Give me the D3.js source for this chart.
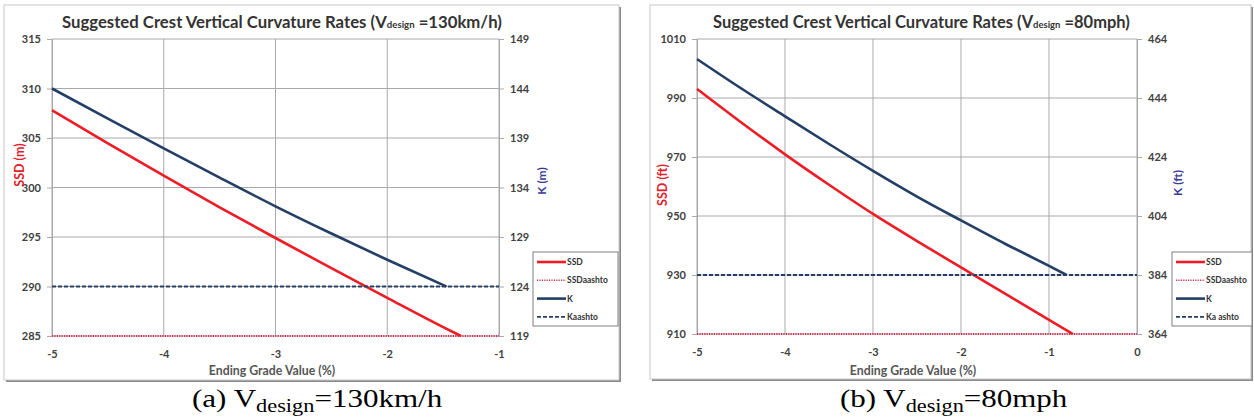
<!DOCTYPE html>
<html>
<head>
<meta charset="utf-8">
<script src="https://cdn.jsdelivr.net/npm/d3@7"></script>
<style>
  body { margin: 0; background: #fff; }
  svg { display: block; }
</style>
</head>
<body>
<div id="chart"></div>
<script>
// ---- panel (a): Vdesign = 130 km/h ----
const grade_ssd_a = [-5, -4.5, -4, -3.5, -3, -2.5, -2, -1.5, -1.34];
const ssd_a       = [307.8, 304.45, 301.2, 298.0, 294.9, 291.85, 288.85, 285.9, 285.0];
const grade_k_a   = [-5, -4.5, -4, -3.5, -3, -2.5, -2, -1.47];
const k_a         = [144.0, 140.95, 137.95, 135.0, 132.1, 129.35, 126.7, 124.0];
const ssd_aashto_a = 285;
const k_aashto_a   = 124;
const ticks_ssd_a = [285, 290, 295, 300, 305, 310, 315];
const ticks_k_a   = [119, 124, 129, 134, 139, 144, 149];
const ticks_x_a   = [-5, -4, -3, -2, -1];
const legend_a    = ["SSD", "SSDaashto", "K", "Kaashto"];

// ---- panel (b): Vdesign = 80 mph ----
const grade_ssd_b = [-5, -4.5, -4, -3.5, -3, -2.5, -2, -1.5, -1, -0.73];
const ssd_b       = [993.1, 981.8, 970.9, 960.6, 950.7, 941.5, 932.6, 923.7, 914.8, 910.0];
const grade_k_b   = [-5, -4.5, -4, -3.5, -3, -2.5, -2, -1.5, -1, -0.8];
const k_b         = [457.2, 447.3, 437.8, 428.4, 419.3, 410.6, 402.5, 394.6, 387.1, 384.0];
const ssd_aashto_b = 910;
const k_aashto_b   = 384;
const ticks_ssd_b = [910, 930, 950, 970, 990, 1010];
const ticks_k_b   = [364, 384, 404, 424, 444, 464];
const ticks_x_b   = [-5, -4, -3, -2, -1, 0];
const legend_b    = ["SSD", "SSDaashto", "K", "Ka ashto"];

const red = "#ee1c25", navy = "#243f66", grid = "#a9a9a9", txt = "#404040";
const font = "Lato, 'Open Sans', sans-serif";

const svg = d3.select("#chart").append("svg")
    .attr("width", 1254)
    .attr("height", 419)
    .style("background", "#fff");

// squeeze/stretch a text element horizontally so it spans a given width
function fit_width(sel, x0, width) {
    const w = sel.node().getBBox().width;
    const k = width / w;
    sel.attr("transform", `translate(${x0},0) scale(${k},1)`);
}

function draw_panel(p) {
    const g = svg.append("g");

    // frame with shadow
    g.append("rect")
        .attr("x", p.frame[0] + 2).attr("y", p.frame[1] + 2)
        .attr("width", p.frame[2] - p.frame[0]).attr("height", p.frame[3] - p.frame[1])
        .attr("fill", "#8a8a8a");
    g.append("rect")
        .attr("x", p.frame[0]).attr("y", p.frame[1])
        .attr("width", p.frame[2] - p.frame[0]).attr("height", p.frame[3] - p.frame[1])
        .attr("fill", "#fff")
        .attr("stroke", "#c8c8c8");

    const x = d3.scaleLinear().domain(p.x_domain).range([p.left, p.right]);
    const y_l = d3.scaleLinear().domain(p.ssd_domain).range([p.bottom, p.top]);
    const y_r = d3.scaleLinear().domain(p.k_domain).range([p.bottom, p.top]);

    // gridlines
    g.append("g").selectAll("line")
        .data(p.ticks_ssd)
        .join("line")
        .attr("x1", p.left).attr("x2", p.right)
        .attr("y1", d => y_l(d)).attr("y2", d => y_l(d))
        .attr("stroke", grid).attr("stroke-width", 1);
    g.append("g").selectAll("line")
        .data(p.ticks_x)
        .join("line")
        .attr("x1", d => x(d)).attr("x2", d => x(d))
        .attr("y1", p.top).attr("y2", p.bottom)
        .attr("stroke", grid).attr("stroke-width", 1);

    // axes
    const fmt = d => String(d);
    const ax_l = g.append("g")
        .attr("transform", `translate(${p.left},0)`)
        .call(d3.axisLeft(y_l).tickValues(p.ticks_ssd).tickFormat(fmt).tickSize(5).tickPadding(6));
    const ax_r = g.append("g")
        .attr("transform", `translate(${p.right},0)`)
        .call(d3.axisRight(y_r).tickValues(p.ticks_k).tickFormat(fmt).tickSize(5).tickPadding(6));
    const ax_b = g.append("g")
        .attr("transform", `translate(0,${p.bottom})`)
        .call(d3.axisBottom(x).tickValues(p.ticks_x).tickFormat(fmt).tickSize(0).tickPadding(14));
    ax_b.select(".domain").remove();
    [ax_l, ax_r].forEach(a => {
        a.select(".domain").attr("stroke", grid);
        a.selectAll(".tick line").attr("stroke", grid);
    });
    [ax_l, ax_r, ax_b].forEach(a => {
        a.selectAll("text")
            .style("font-family", font)
            .style("font-size", "11px")
            .style("font-weight", "bold")
            .attr("fill", txt);
    });

    // aashto reference lines
    g.append("line")
        .attr("x1", x(p.x_domain[0])).attr("x2", x(p.x_domain[1]))
        .attr("y1", y_l(p.ssd_aashto)).attr("y2", y_l(p.ssd_aashto))
        .attr("stroke", "#d2304f").attr("stroke-width", 1.8)
        .attr("stroke-dasharray", "1.2,1.2");

    const line_l = d3.line().curve(d3.curveMonotoneX).x(d => x(d[0])).y(d => y_l(d[1]));
    const line_r = d3.line().curve(d3.curveMonotoneX).x(d => x(d[0])).y(d => y_r(d[1]));

    g.append("path")
        .datum(d3.zip(p.grade_ssd, p.ssd))
        .attr("d", line_l)
        .attr("fill", "none").attr("stroke", red).attr("stroke-width", 2.6);
    g.append("path")
        .datum(d3.zip(p.grade_k, p.k))
        .attr("d", line_r)
        .attr("fill", "none").attr("stroke", navy).attr("stroke-width", 2.6);

    g.append("line")
        .attr("x1", x(p.x_domain[0])).attr("x2", x(p.x_domain[1]))
        .attr("y1", y_r(p.k_aashto)).attr("y2", y_r(p.k_aashto))
        .attr("stroke", navy).attr("stroke-width", 1.8)
        .attr("stroke-dasharray", "4,2");

    // title
    const title = g.append("text")
        .attr("x", 0).attr("y", 28)
        .style("font-family", font)
        .style("font-weight", "bold")
        .style("font-size", "16.5px")
        .attr("fill", "#333");
    title.append("tspan").text("Suggested Crest Vertical Curvature Rates (V");
    title.append("tspan").style("font-size", "9.5px").text("design");
    title.append("tspan").text(p.title_speed);
    fit_width(title, p.title[0], p.title[1] - p.title[0]);

    // axis titles
    g.append("text")
        .attr("transform", `translate(${p.ssd_label[0]},${p.ssd_label[1]}) rotate(-90)`)
        .attr("text-anchor", "middle")
        .attr("dy", "0.35em")
        .style("font-family", font).style("font-weight", "bold").style("font-size", "12.5px")
        .attr("fill", "#e0202a")
        .text(p.ssd_title);
    g.append("text")
        .attr("transform", `translate(${p.k_label[0]},${p.k_label[1]}) rotate(-90)`)
        .attr("text-anchor", "middle")
        .attr("dy", "0.35em")
        .style("font-family", font).style("font-weight", "bold").style("font-size", "12px")
        .attr("fill", "#3a3a9a")
        .text(p.k_title);
    g.append("text")
        .attr("x", p.xlabel_x).attr("y", 375)
        .attr("text-anchor", "middle")
        .style("font-family", font).style("font-weight", "bold").style("font-size", "12.3px")
        .attr("fill", "#555")
        .text("Ending Grade Value (%)");

    // legend
    const lg = g.append("g").attr("transform", `translate(${p.legend[0]},${p.legend[1]})`);
    lg.append("rect")
        .attr("width", p.legend[2]).attr("height", 74)
        .attr("fill", "#fff").attr("stroke", "#7f7f7f");
    const styles = [
        {color: red, width: 2.6, dash: null},
        {color: "#d2304f", width: 1.4, dash: "1.2,1.2"},
        {color: navy, width: 2.6, dash: null},
        {color: navy, width: 1.6, dash: "4,2"}
    ];
    p.legend_names.forEach((name, i) => {
        const yy = 10 + i * 18.3;
        lg.append("line")
            .attr("x1", 4).attr("x2", 33)
            .attr("y1", yy).attr("y2", yy)
            .attr("stroke", styles[i].color)
            .attr("stroke-width", styles[i].width)
            .attr("stroke-dasharray", styles[i].dash);
        lg.append("text")
            .attr("x", 34).attr("y", yy).attr("dy", "0.35em")
            .style("font-family", font).style("font-weight", "bold").style("font-size", "8.5px")
            .attr("fill", "#333")
            .text(name);
    });

    // caption
    const cap = svg.append("text")
        .attr("x", 0).attr("y", 407)
        .style("font-family", "'Liberation Serif', 'Times New Roman', serif")
        .style("font-size", "25px")
        .attr("fill", "#000");
    cap.append("tspan").text(p.caption[0]);
    cap.append("tspan").attr("dy", 5).style("font-size", "18px").text("design");
    cap.append("tspan").attr("dy", -5).text(p.caption[1]);
    fit_width(cap, p.caption_x[0], p.caption_x[1] - p.caption_x[0]);
}

draw_panel({
    frame: [4, 5, 619, 380],
    left: 52, right: 499, top: 39, bottom: 336,
    x_domain: [-5, -1], ssd_domain: [285, 315], k_domain: [119, 149],
    ticks_ssd: ticks_ssd_a, ticks_k: ticks_k_a, ticks_x: ticks_x_a,
    grade_ssd: grade_ssd_a, ssd: ssd_a, grade_k: grade_k_a, k: k_a,
    ssd_aashto: ssd_aashto_a, k_aashto: k_aashto_a,
    title: [62, 502], title_speed: " =130km/h)",
    ssd_title: "SSD (m)", k_title: "K (m)",
    ssd_label: [20, 165], k_label: [542, 181], xlabel_x: 272,
    legend: [533, 252, 85], legend_names: legend_a,
    caption_x: [192, 443], caption: ["(a) V", "=130km/h"]
});

draw_panel({
    frame: [650, 5, 1251, 379],
    left: 697, right: 1137, top: 39, bottom: 334,
    x_domain: [-5, 0], ssd_domain: [910, 1010], k_domain: [364, 464],
    ticks_ssd: ticks_ssd_b, ticks_k: ticks_k_b, ticks_x: ticks_x_b,
    grade_ssd: grade_ssd_b, ssd: ssd_b, grade_k: grade_k_b, k: k_b,
    ssd_aashto: ssd_aashto_b, k_aashto: k_aashto_b,
    title: [713, 1130], title_speed: " =80mph)",
    ssd_title: "SSD (ft)", k_title: "K (ft)",
    ssd_label: [663, 185], k_label: [1178, 183], xlabel_x: 913,
    legend: [1172, 252, 80], legend_names: legend_b,
    caption_x: [840, 1068], caption: ["(b) V", "=80mph"]
});
</script>
</body>
</html>
